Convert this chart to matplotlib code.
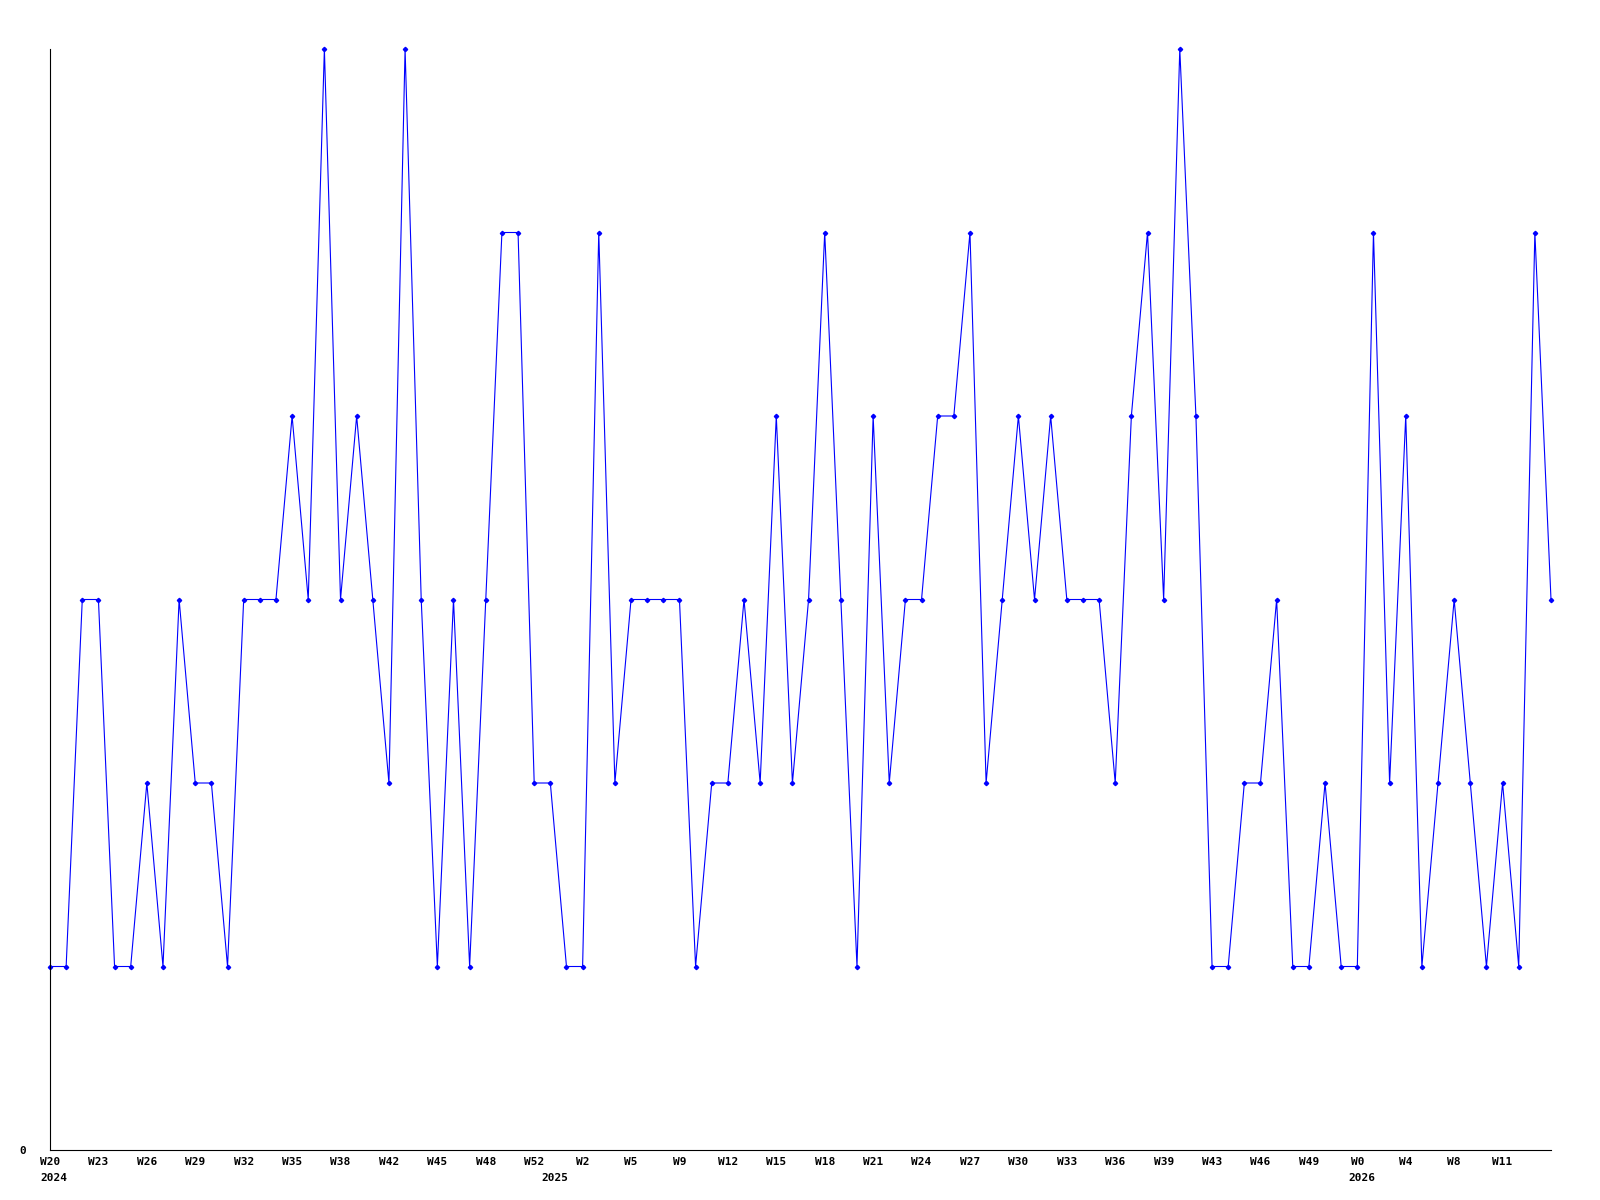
import numpy as np
import matplotlib
matplotlib.use("Agg")
import matplotlib.pyplot as plt

# weekly counts, one per point
values = [1, 1, 3, 3, 1, 1, 2, 1, 3, 2,
          2, 1, 3, 3, 3, 4, 3, 6, 3, 4,
          3, 2, 6, 3, 1, 3, 1, 3, 5, 5,
          2, 2, 1, 1, 5, 2, 3, 3, 3, 3,
          1, 2, 2, 3, 2, 4, 2, 3, 5, 3,
          1, 4, 2, 3, 3, 4, 4, 5, 2, 3,
          4, 3, 4, 3, 3, 3, 2, 4, 5, 3,
          6, 4, 1, 1, 2, 2, 3, 1, 1, 2,
          1, 1, 5, 2, 4, 1, 2, 3, 2, 1,
          2, 1, 5, 3]
week_labels = ["W20", "W23", "W26", "W29", "W32", "W35", "W38", "W42", "W45", "W48",
               "W52", "W2", "W5", "W9", "W12", "W15", "W18", "W21", "W24", "W27",
               "W30", "W33", "W36", "W39", "W43", "W46", "W49", "W0", "W4", "W8", "W11"]
years = ["2024", "2025", "2026"]
year_idx = [0, 31, 81]

x = np.arange(len(values))
font = dict(family="DejaVu Sans Mono", fontweight="bold", fontsize=8)

fig = plt.figure(figsize=(16, 12), dpi=100)
ax = fig.add_axes([50/1600, 50/1200, 1501/1600, 1101/1200])
ax.plot(x, values, color="#0000ff", lw=0.8, marker="D", ms=2.2, clip_on=False)

ax.set_xlim(0, len(values) - 1)
ax.set_ylim(0, max(values))
for s in ["top", "right"]:
    ax.spines[s].set_visible(False)
for s in ["left", "bottom"]:
    ax.spines[s].set_linewidth(0.8)

ax.set_yticks([0])
ax.set_yticklabels(["0"], **font)
ax.tick_params(axis="y", length=0, pad=17)
ax.set_xticks(x[::3][:len(week_labels)])
ax.set_xticklabels(week_labels, **font)
ax.tick_params(axis="x", length=0, pad=5)

for yr, i in zip(years, year_idx):
    ax.annotate(yr, (i, 0), xytext=(3, -16.5), textcoords="offset points",
                ha="center", va="top", annotation_clip=False, **font)

plt.savefig("out.png", dpi=100)
plt.close("all")
